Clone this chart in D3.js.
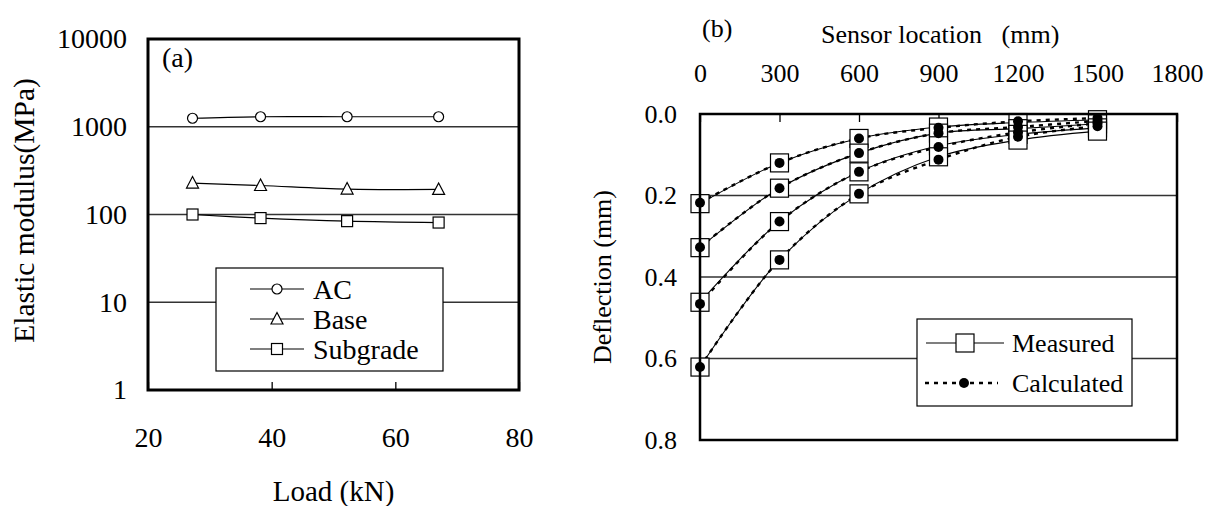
<!DOCTYPE html>
<html>
<head>
<meta charset="utf-8">
<script src="https://cdn.jsdelivr.net/npm/d3@7"></script>
<style>
  html, body { margin: 0; padding: 0; background: #fff; }
  svg text { fill: #000; white-space: pre; font-family: "Liberation Serif", "Times New Roman", Times, serif !important; }
</style>
</head>
<body>
<svg id="chart" width="1211" height="506"></svg>
<script>
// (a) elastic modulus vs load
const loads = [27.2, 38.2, 52.2, 67];
const acModulus = [1250, 1300, 1300, 1300];
const baseModulus = [228, 214, 195, 193];
const subgradeModulus = [100, 91, 84, 81];
const layerNames = ["AC", "Base", "Subgrade"];
const loadTicks = [20, 40, 60, 80];
const modulusTicks = [1, 10, 100, 1000, 10000];

// (b) deflection basins
const sensorLocations = [0, 300, 600, 900, 1200, 1500];
const measured1 = [0.220, 0.120, 0.060, 0.032, 0.021, 0.014];
const measured2 = [0.328, 0.182, 0.096, 0.047, 0.036, 0.024];
const measured3 = [0.462, 0.264, 0.142, 0.078, 0.050, 0.034];
const measured4 = [0.621, 0.358, 0.196, 0.105, 0.064, 0.042];
const calculated1 = [0.218, 0.120, 0.060, 0.034, 0.018, 0.010];
const calculated2 = [0.327, 0.182, 0.096, 0.047, 0.032, 0.017];
const calculated3 = [0.466, 0.264, 0.142, 0.081, 0.045, 0.023];
const calculated4 = [0.621, 0.358, 0.196, 0.112, 0.056, 0.030];
const sensorTicks = [0, 300, 600, 900, 1200, 1500, 1800];
const deflectionTicks = [0, 0.2, 0.4, 0.6, 0.8];

const serif = '"Liberation Serif", "Times New Roman", Times, serif';
const svg = d3.select("#chart");
const smooth = d3.curveCatmullRom.alpha(0.5);

// ---------- panel (a) ----------
const a = { left: 148, right: 519, top: 39, bottom: 390 };
const fa = 28;

const xLoad = d3.scaleLinear().domain([20, 80]).range([a.left, a.right]);
const yMod = d3.scaleLog().domain([1, 10000]).range([a.bottom, a.top]);

const gA = svg.append("g").attr("font-size", fa);

gA.selectAll("line.grid")
  .data([10, 100, 1000])
  .enter()
  .append("line")
  .attr("class", "grid")
  .attr("x1", a.left).attr("x2", a.right)
  .attr("y1", (d) => yMod(d)).attr("y2", (d) => yMod(d))
  .attr("stroke", "#333").attr("stroke-width", 1.3);

const xAxisA = gA.append("g")
  .attr("transform", `translate(0,${a.bottom})`)
  .call(d3.axisBottom(xLoad).tickValues(loadTicks).tickFormat(d3.format("d"))
    .tickSizeInner(-8).tickSizeOuter(0).tickPadding(37));
const yAxisA = gA.append("g")
  .attr("transform", `translate(${a.left},0)`)
  .call(d3.axisLeft(yMod).tickValues(modulusTicks).tickFormat(d3.format("d")).tickSize(0).tickPadding(21));
[xAxisA, yAxisA].forEach((g) => {
  g.select(".domain").remove();
  g.attr("font-family", serif).attr("font-size", fa);
  g.selectAll(".tick line").attr("stroke", "#000").attr("stroke-width", 1.3);
});

const layers = [
  { name: layerNames[0], values: acModulus, shape: "circle" },
  { name: layerNames[1], values: baseModulus, shape: "triangle" },
  { name: layerNames[2], values: subgradeModulus, shape: "square" },
];

function marker(g, shape, x, y) {
  if (shape === "circle") {
    g.append("circle").attr("cx", x).attr("cy", y).attr("r", 5);
  } else if (shape === "triangle") {
    g.append("path").attr("d", `M${x},${y - 6.5}L${x + 6},${y + 5}L${x - 6},${y + 5}Z`);
  } else {
    g.append("rect").attr("x", x - 5.5).attr("y", y - 5.5).attr("width", 11).attr("height", 11);
  }
}

const lineA = d3.line().curve(smooth).x((d, i) => xLoad(loads[i])).y((d) => yMod(d));

layers.forEach((layer) => {
  gA.append("path")
    .attr("d", lineA(layer.values))
    .attr("fill", "none").attr("stroke", "#000").attr("stroke-width", 1.2);
  const mg = gA.append("g").attr("fill", "#fff").attr("stroke", "#000").attr("stroke-width", 1.2);
  layer.values.forEach((v, i) => marker(mg, layer.shape, xLoad(loads[i]), yMod(v)));
});

// legend (a)
const legA = gA.append("g");
legA.append("rect")
  .attr("x", 216).attr("y", 268).attr("width", 227).attr("height", 103)
  .attr("fill", "#fff").attr("stroke", "#000").attr("stroke-width", 1.2);
layers.forEach((layer, i) => {
  const y = 289 + i * 30;
  legA.append("line").attr("x1", 250).attr("x2", 304).attr("y1", y).attr("y2", y)
    .attr("stroke", "#000").attr("stroke-width", 1.2);
  const mg = legA.append("g").attr("fill", "#fff").attr("stroke", "#000").attr("stroke-width", 1.2);
  marker(mg, layer.shape, 277, y);
  legA.append("text").attr("x", 313).attr("y", y).attr("dy", "0.34em").text(layer.name);
});

gA.append("rect")
  .attr("x", a.left).attr("y", a.top)
  .attr("width", a.right - a.left).attr("height", a.bottom - a.top)
  .attr("fill", "none").attr("stroke", "#000").attr("stroke-width", 3);

gA.append("text").attr("x", 162).attr("y", 67).text("(a)");
gA.append("text")
  .attr("text-anchor", "middle")
  .attr("font-size", 29.5)
  .attr("transform", `translate(34,${(a.top + a.bottom) / 2 - 4}) rotate(-90)`)
  .text("Elastic modulus(MPa)");
gA.append("text")
  .attr("text-anchor", "middle")
  .attr("font-size", 29)
  .attr("x", (a.left + a.right) / 2).attr("y", 501)
  .text("Load (kN)");

// ---------- panel (b) ----------
const b = { left: 700, right: 1177, top: 114, bottom: 440 };
const fb = 26;

const xSensor = d3.scaleLinear().domain([0, 1800]).range([b.left, b.right]);
const yDef = d3.scaleLinear().domain([0, 0.8]).range([b.top, b.bottom]);

const gB = svg.append("g").attr("font-size", fb);

gB.selectAll("line.grid")
  .data([0.2, 0.4, 0.6])
  .enter()
  .append("line")
  .attr("class", "grid")
  .attr("x1", b.left).attr("x2", b.right)
  .attr("y1", (d) => yDef(d)).attr("y2", (d) => yDef(d))
  .attr("stroke", "#333").attr("stroke-width", 1.3);

const xAxisB = gB.append("g")
  .attr("transform", `translate(0,${b.top})`)
  .call(d3.axisTop(xSensor).tickValues(sensorTicks).tickFormat(d3.format("d"))
    .tickSizeInner(-8).tickSizeOuter(0).tickPadding(32));
const yAxisB = gB.append("g")
  .attr("transform", `translate(${b.left},0)`)
  .call(d3.axisLeft(yDef).tickValues(deflectionTicks).tickFormat(d3.format(".1f")).tickSize(0).tickPadding(23));
[xAxisB, yAxisB].forEach((g) => {
  g.select(".domain").remove();
  g.attr("font-family", serif).attr("font-size", fb);
  g.selectAll(".tick line").attr("stroke", "#000").attr("stroke-width", 1.3);
});

const measuredSets = [measured1, measured2, measured3, measured4];
const calculatedSets = [calculated1, calculated2, calculated3, calculated4];
const lineB = d3.line().curve(smooth).x((d, i) => xSensor(sensorLocations[i])).y((d) => yDef(d));

measuredSets.forEach((s) => {
  gB.append("path").attr("d", lineB(s))
    .attr("fill", "none").attr("stroke", "#000").attr("stroke-width", 1.1);
});
calculatedSets.forEach((s) => {
  gB.append("path").attr("d", lineB(s))
    .attr("fill", "none").attr("stroke", "#000").attr("stroke-width", 2.4)
    .attr("stroke-dasharray", "4,5");
});
measuredSets.forEach((s) => {
  gB.append("g").selectAll("rect")
    .data(s).enter().append("rect")
    .attr("x", (d, i) => xSensor(sensorLocations[i]) - 9)
    .attr("y", (d) => yDef(d) - 9)
    .attr("width", 18).attr("height", 18)
    .attr("fill", "#fff").attr("stroke", "#000").attr("stroke-width", 1.2);
});
calculatedSets.forEach((s) => {
  gB.append("g").selectAll("circle")
    .data(s).enter().append("circle")
    .attr("cx", (d, i) => xSensor(sensorLocations[i]))
    .attr("cy", (d) => yDef(d))
    .attr("r", 5).attr("fill", "#000");
});

gB.append("rect")
  .attr("x", b.left).attr("y", b.top)
  .attr("width", b.right - b.left).attr("height", b.bottom - b.top)
  .attr("fill", "none").attr("stroke", "#000").attr("stroke-width", 2.5);

// legend (b)
const legB = gB.append("g");
legB.append("rect")
  .attr("x", 917).attr("y", 319).attr("width", 215).attr("height", 87)
  .attr("fill", "#fff").attr("stroke", "#000").attr("stroke-width", 1.2);
legB.append("line").attr("x1", 926).attr("x2", 1004).attr("y1", 343).attr("y2", 343)
  .attr("stroke", "#000").attr("stroke-width", 1.1);
legB.append("rect").attr("x", 956).attr("y", 334).attr("width", 18).attr("height", 18)
  .attr("fill", "#fff").attr("stroke", "#000").attr("stroke-width", 1.2);
legB.append("text").attr("x", 1012).attr("y", 343).attr("dy", "0.34em").text("Measured");
legB.append("line").attr("x1", 925).attr("x2", 998).attr("y1", 383).attr("y2", 383)
  .attr("stroke", "#000").attr("stroke-width", 2.4).attr("stroke-dasharray", "4,5");
legB.append("circle").attr("cx", 964).attr("cy", 383).attr("r", 5).attr("fill", "#000");
legB.append("text").attr("x", 1012).attr("y", 383).attr("dy", "0.34em").text("Calculated");

gB.append("text").attr("x", 702).attr("y", 37).text("(b)");
gB.append("text").attr("x", 821).attr("y", 43).text("Sensor location   (mm)");
gB.append("text")
  .attr("text-anchor", "middle")
  .attr("transform", `translate(611,${(b.top + b.bottom) / 2}) rotate(-90)`)
  .text("Deflection (mm)");

svg.selectAll("text").style("font-family", serif);
</script>
</body>
</html>
